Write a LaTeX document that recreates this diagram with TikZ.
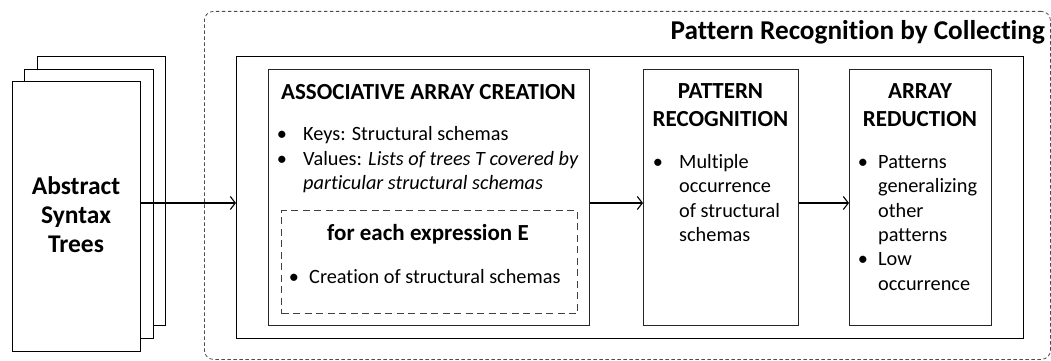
\documentclass[tikz,border=0pt]{standalone}
\usepackage{fontspec}
\setmainfont[Ligatures={TeX,NoCommon}]{Carlito}
\usetikzlibrary{arrows.meta}
\begin{document}
\begin{tikzpicture}[x=1pt,y=-1pt,
  page/.style={draw, fill=white, line width=1.4pt, anchor=north west, inner sep=0pt},
  solidbox/.style={draw, line width=1.4pt, anchor=north west, inner sep=0pt},
  stagebox/.style={draw=black!85, line width=1.3pt, anchor=north west, inner sep=0pt},
  loopbox/.style={draw=black!75, line width=1.1pt, dash pattern=on 7pt off 4.5pt, anchor=north west, inner sep=0pt},
  groupbox/.style={draw=black!70, line width=0.8pt, dash pattern=on 3.5pt off 2.5pt, rounded corners=9pt, anchor=north west, inner sep=0pt},
  arr/.style={line width=1.1pt, -{Straight Barb[length=5pt,width=13pt,line width=1.1pt]}},
  head/.style={font=\fontsize{23}{27}\selectfont\bfseries, anchor=base, inner sep=0pt},
  asttext/.style={font=\fontsize{25.5}{30}\selectfont\bfseries, anchor=base, inner sep=0pt},
  body/.style={font=\fontsize{20.3}{24}\selectfont, anchor=base west, inner sep=0pt},
  bul/.style={font=\fontsize{20.3}{24}\selectfont, anchor=base, inner sep=0pt},
]
\useasboundingbox (0,0) rectangle (1051,361);
% group
\node[groupbox, minimum width=846pt, minimum height=348pt] (grp) at (204,11) {};
\node[font=\fontsize{27.2}{32}\selectfont\bfseries, anchor=base east, inner sep=0pt] (title) at (1045,40) {Pattern Recognition by Collecting};
% stacked pages
\node[page, minimum width=128pt, minimum height=269pt] (p3) at (37,56) {};
\node[page, minimum width=129pt, minimum height=269pt] (p2) at (24,69) {};
\node[page, minimum width=128pt, minimum height=270pt] (p1) at (12,81) {};
\node[asttext] (ast1) at (76,194) {Abstract};
\node[asttext] (ast2) at (76,223) {Syntax};
\node[asttext] (ast3) at (76,252) {Trees};
% main box
\node[solidbox, minimum width=787pt, minimum height=282pt] (main) at (236,56) {};
% stage 1
\node[stagebox, minimum width=321pt, minimum height=256pt] (s1) at (268,69) {};
\node[head] (s1h) at (428.5,99) {ASSOCIATIVE ARRAY CREATION};
\node[bul] (s1b1) at (282,140) {•};
\node[body] (s1t1) at (303,140) {Keys: Structural schemas};
\node[bul] (s1b2) at (282,165) {•};
\node[body] (s1t2) at (303,165) {Values: \textit{Lists of trees T covered by}};
\node[body] (s1t3) at (303,189) {\textit{particular structural schemas}};
\node[loopbox, minimum width=296pt, minimum height=103pt] (loop) at (281,210) {};
\node[head] (looph) at (428,240) {for each expression E};
\node[bul] (lb1) at (294,283) {•};
\node[body] (lt1) at (309,283) {Creation of structural schemas};
% stage 2
\node[stagebox, minimum width=155pt, minimum height=256pt] (s2) at (643,69) {};
\node[head] (s2h1) at (720.5,98) {PATTERN};
\node[head] (s2h2) at (720.5,126) {RECOGNITION};
\node[bul] (s2b1) at (658,168) {•};
\node[body] (s2t1) at (679,168) {Multiple};
\node[body] (s2t2) at (679,192.5) {occurrence};
\node[body] (s2t3) at (679,217) {of structural};
\node[body] (s2t4) at (679,241) {schemas};
% stage 3
\node[stagebox, minimum width=142pt, minimum height=256pt] (s3) at (849,69) {};
\node[head] (s3h1) at (920,98) {ARRAY};
\node[head] (s3h2) at (920,126) {REDUCTION};
\node[bul] (s3b1) at (863,168) {•};
\node[body] (s3t1) at (878,168) {Patterns};
\node[body] (s3t2) at (878,192.5) {generalizing};
\node[body] (s3t3) at (878,217) {other};
\node[body] (s3t4) at (878,241) {patterns};
\node[bul] (s3b2) at (863,265) {•};
\node[body] (s3t5) at (878,265) {Low};
\node[body] (s3t6) at (878,290) {occurrence};
% arrows
\coordinate (ay) at (0,203);
\draw[arr] (p1.east |- ay) -- (main.west |- ay);
\draw[arr] (s1.east |- ay) -- (s2.west |- ay);
\draw[arr] (s2.east |- ay) -- (s3.west |- ay);
\end{tikzpicture}
\end{document}
